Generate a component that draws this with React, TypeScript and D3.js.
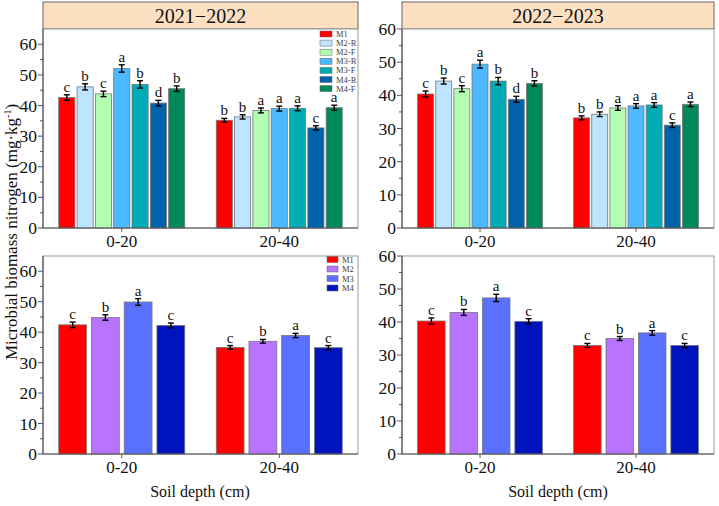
import React from "react";
import * as d3 from "d3";

const depths = ["0-20", "20-40"];
const splitTreatments = ["M1", "M2-R", "M2-F", "M3-R", "M3-F", "M4-R", "M4-F"];
const splitColors = ["#FF0000", "#BDE5FF", "#B3FDB3", "#4CB8FF", "#00ABB6", "#0062A9", "#008A5B"];
const mainTreatments = ["M1", "M2", "M3", "M4"];
const mainColors = ["#FF0000", "#B873FF", "#5A70FF", "#0014BE"];
const yTicks = [0, 10, 20, 30, 40, 50, 60];
const yMinorTicks = [5, 15, 25, 35, 45, 55];

// 2021-2022, split treatments: [depth][treatment]
const split2122Mean = [
  [42.6, 46.1, 43.8, 52.1, 46.9, 40.8, 45.5],
  [35.2, 36.3, 38.4, 39.0, 39.1, 32.7, 39.3],
];
const split2122Err = [
  [0.9, 1.0, 0.9, 1.2, 1.2, 0.9, 0.9],
  [0.6, 0.7, 0.8, 0.8, 0.8, 0.7, 0.8],
];
const split2122Letters = [
  ["c", "b", "c", "a", "b", "d", "b"],
  ["b", "b", "a", "a", "a", "c", "a"],
];

// 2022-2023, split treatments
const split2223Mean = [
  [40.4, 44.3, 42.0, 49.4, 44.3, 38.8, 43.6],
  [33.2, 34.3, 36.2, 36.8, 37.1, 31.0, 37.3],
];
const split2223Err = [
  [0.9, 0.9, 0.9, 1.2, 1.1, 0.9, 0.8],
  [0.6, 0.7, 0.7, 0.7, 0.7, 0.7, 0.7],
];
const split2223Letters = [
  ["c", "b", "c", "a", "b", "d", "b"],
  ["b", "b", "a", "a", "a", "c", "a"],
];

// 2021-2022, main treatments
const main2122Mean = [
  [42.4, 44.8, 49.9, 42.2],
  [35.0, 37.0, 38.9, 34.9],
];
const main2122Err = [
  [0.9, 0.9, 1.1, 0.8],
  [0.6, 0.6, 0.7, 0.7],
];
const main2122Letters = [
  ["c", "b", "a", "c"],
  ["c", "b", "a", "c"],
];

// 2022-2023, main treatments
const main2223Mean = [
  [40.3, 42.9, 47.3, 40.2],
  [32.9, 35.0, 36.7, 32.9],
];
const main2223Err = [
  [0.9, 0.9, 1.1, 0.8],
  [0.6, 0.6, 0.7, 0.6],
];
const main2223Letters = [
  ["c", "b", "a", "c"],
  ["c", "b", "a", "c"],
];

const FONT = "Liberation Serif";

type PanelProps = {
  x0: number;
  x1: number;
  yTop: number;
  yBottom: number;
  yMax: number;
  treatments: string[];
  colors: string[];
  means: number[][];
  errs: number[][];
  letters: string[][];
  innerPad: number;
  header?: string;
  legend?: { x: number; y: number; dy: number; sw: number; sh: number };
};

function Panel(p: PanelProps) {
  const y = d3.scaleLinear().domain([0, p.yMax]).range([p.yBottom, p.yTop]);
  const xg = d3.scaleBand<string>().domain(depths).range([p.x0, p.x1]).paddingInner(0.2).paddingOuter(0.1);
  const xs = d3.scaleBand<string>().domain(p.treatments).range([0, xg.bandwidth()]).paddingInner(p.innerPad).paddingOuter(0);
  const headerTop = 2;
  return (
    <g>
      {p.header && (
        <g>
          <rect x={p.x0} y={headerTop} width={p.x1 - p.x0} height={p.yTop - headerTop} fill="#FDDFC2" stroke="#666" strokeWidth={1} />
          <text x={(p.x0 + p.x1) / 2} y={(headerTop + p.yTop) / 2 + 7} textAnchor="middle" fontFamily={FONT} fontSize={20} fill="#111">
            {p.header}
          </text>
        </g>
      )}
      <rect x={p.x0} y={p.yTop} width={p.x1 - p.x0} height={p.yBottom - p.yTop} fill="white" stroke="#9a9a9a" strokeWidth={1} />
      {depths.map((d, gi) => (
        <g key={d}>
          {p.treatments.map((t, ti) => {
            const v = p.means[gi][ti];
            const e = p.errs[gi][ti];
            const bx = (xg(d) as number) + (xs(t) as number);
            const bw = xs.bandwidth();
            const cx = bx + bw / 2;
            return (
              <g key={t}>
                <rect x={bx} y={y(v)} width={bw} height={p.yBottom - y(v)} fill={p.colors[ti]} stroke="#777" strokeWidth={0.8} />
                <line x1={cx} x2={cx} y1={y(v + e)} y2={y(v - e)} stroke="#000" strokeWidth={1.4} />
                <line x1={cx - 3} x2={cx + 3} y1={y(v + e)} y2={y(v + e)} stroke="#000" strokeWidth={1.4} />
                <line x1={cx - 3} x2={cx + 3} y1={y(v - e)} y2={y(v - e)} stroke="#000" strokeWidth={1.4} />
                <text x={cx} y={y(v + e) - 3} textAnchor="middle" fontFamily={FONT} fontSize={15} fill="#111">
                  {p.letters[gi][ti]}
                </text>
              </g>
            );
          })}
          <line x1={(xg(d) as number) + xg.bandwidth() / 2} x2={(xg(d) as number) + xg.bandwidth() / 2} y1={p.yBottom} y2={p.yBottom + 4} stroke="#555" />
          <text x={(xg(d) as number) + xg.bandwidth() / 2} y={p.yBottom + 19} textAnchor="middle" fontFamily={FONT} fontSize={17} fill="#111">
            {d}
          </text>
        </g>
      ))}
      <line x1={p.x0} x2={p.x0} y1={p.yTop} y2={p.yBottom} stroke="#555" strokeWidth={1.2} />
      <line x1={p.x0} x2={p.x1} y1={p.yBottom} y2={p.yBottom} stroke="#555" strokeWidth={1.2} />
      {yTicks.map((t) => (
        <g key={t}>
          <line x1={p.x0 - 5} x2={p.x0} y1={y(t)} y2={y(t)} stroke="#555" />
          <text x={p.x0 - 6} y={y(t) + 6} textAnchor="end" fontFamily={FONT} fontSize={17.5} fill="#111">
            {t}
          </text>
        </g>
      ))}
      {yMinorTicks.map((t) => (
        <line key={t} x1={p.x0 - 3} x2={p.x0} y1={y(t)} y2={y(t)} stroke="#555" />
      ))}
      {p.legend &&
        p.treatments.map((t, i) => (
          <g key={t}>
            <rect x={p.legend!.x} y={p.legend!.y + i * p.legend!.dy - p.legend!.sh / 2} width={p.legend!.sw} height={p.legend!.sh} fill={p.colors[i]} stroke="#666" strokeWidth={0.5} />
            <text x={p.legend!.x + p.legend!.sw + 4} y={p.legend!.y + i * p.legend!.dy + 3} fontFamily={FONT} fontSize={8.5} fill="#444">
              {t}
            </text>
          </g>
        ))}
    </g>
  );
}

export default function App() {
  return (
    <svg width={719} height={506} style={{ position: "absolute", left: 0, top: 0, background: "white" }}>
      <rect x={0} y={0} width={719} height={506} fill="white" />
      <Panel
        x0={43} x1={358} yTop={29} yBottom={228} yMax={65}
        treatments={splitTreatments} colors={splitColors}
        means={split2122Mean} errs={split2122Err} letters={split2122Letters}
        innerPad={0.12} header="2021−2022"
        legend={{ x: 320, y: 34, dy: 9.1, sw: 12, sh: 6 }}
      />
      <Panel
        x0={402} x1={714} yTop={29} yBottom={228} yMax={60}
        treatments={splitTreatments} colors={splitColors}
        means={split2223Mean} errs={split2223Err} letters={split2223Letters}
        innerPad={0.12} header="2022−2023"
      />
      <Panel
        x0={43} x1={358} yTop={256} yBottom={454} yMax={65}
        treatments={mainTreatments} colors={mainColors}
        means={main2122Mean} errs={main2122Err} letters={main2122Letters}
        innerPad={0.15}
        legend={{ x: 327, y: 259.5, dy: 9.5, sw: 11, sh: 6 }}
      />
      <Panel
        x0={402} x1={714} yTop={256} yBottom={454} yMax={60}
        treatments={mainTreatments} colors={mainColors}
        means={main2223Mean} errs={main2223Err} letters={main2223Letters}
        innerPad={0.15}
      />
      <text x={200} y={497} textAnchor="middle" fontFamily={FONT} fontSize={16} fill="#111">Soil depth (cm)</text>
      <text x={558} y={497} textAnchor="middle" fontFamily={FONT} fontSize={16} fill="#111">Soil depth (cm)</text>
      <text transform="translate(17,232) rotate(-90)" textAnchor="middle" fontFamily={FONT} fontSize={17} fill="#111">
        Microbial biomass nitrogen (mg·kg
        <tspan fontSize={10} dy={-6}>-1</tspan>
        <tspan dy={6}>)</tspan>
      </text>
    </svg>
  );
}
